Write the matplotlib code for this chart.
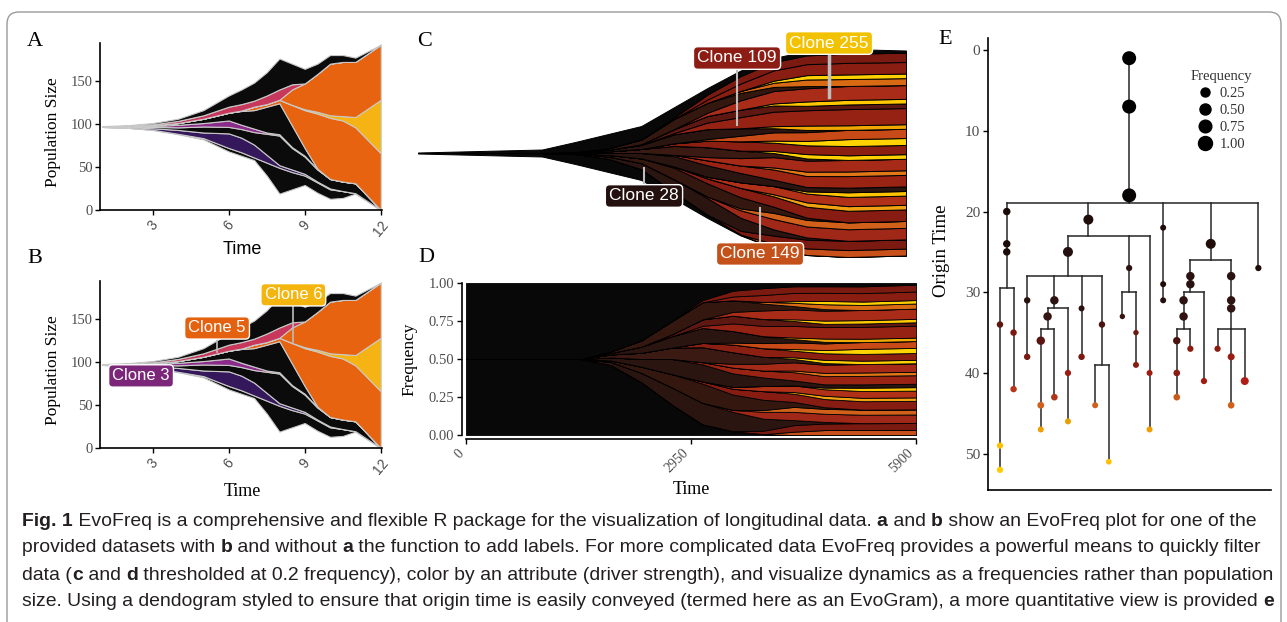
import matplotlib
matplotlib.use('Agg')
import numpy as np
import matplotlib.pyplot as plt
import matplotlib.transforms as mtransforms
from matplotlib.patches import FancyBboxPatch
from matplotlib.lines import Line2D

SERIF = 'Liberation Serif'
SANS = 'Liberation Sans'
GREY = '#4d4d4d'

# ---------------- panels A / B : clone sizes over time (stacked bottom -> top)
fish_time = [1, 2, 3, 4, 5, 6, 6.5, 7, 7.5, 8, 8.5, 9, 9.5, 10, 10.5, 11, 12]
fish_bottom = [96.5, 95.5, 93, 88, 82, 68, 63, 58, 40, 19, 24, 29, 20, 13, 14, 19, 0]
black_low = [0, 0, 0.2, 0.5, 1.5, 4, 4, 3, 15, 30, 20, 11, 12, 11, 8, 0.5, 0]
clone_2 = [0, 0.5, 1.8, 4.5, 6.5, 17, 17, 15, 9, 3, 3, 2, 1, 1, 0, 0, 0]
black_mid = [0.5, 0.5, 1.5, 3, 7, 7.5, 10, 14.5, 24.5, 34.5, 25, 20, 14, 11, 11, 11.5, 0]
clone_3 = [0, 0.5, 1, 3, 4, 7.5, 5, 4, 1.5, 1.5, 1, 1, 0.5, 0, 0, 0, 0]
black_core = [0, 0.3, 1, 2, 5, 9, 16, 21.5, 30, 36, 25, 9, 0.5, 0, 0, 0, 0]
clone_5_low = [0, 0, 0, 0, 0, 0, 0.5, 4, 3, 4, 24, 44, 64, 71, 71, 65, 66]
clone_6 = [0, 0, 0, 0, 0, 0, 0, 0, 0, 0, 0, 1, 2, 3, 5, 12, 62]
clone_5_up = [0, 0, 0, 0, 0, 0, 0, 0, 0, 0, 18, 30, 44, 60, 63, 64, 64]
clone_4 = [0, 0.3, 1, 2.5, 4, 7, 7.5, 7, 10, 12, 6, 0, 0, 0, 0, 0, 0]
black_top = [0.5, 0.9, 1.5, 2.5, 6, 13, 17, 21, 27, 36, 24, 17, 12, 10, 8, 5, 0]

fish_layers = [black_low, clone_2, black_mid, clone_3, black_core,
               clone_5_low, clone_6, clone_5_up, clone_4, black_top]
fish_colors = ['#0b0b0b', '#35185b', '#0b0b0b', '#8b2c8a', '#0b0b0b',
               '#e8630f', '#f6b414', '#e8630f', '#c8385c', '#0b0b0b']

# ---------------- panels C / D : filtered clones (relative sizes, bottom -> top)
evo_time = [0, 1500, 1900, 2300, 2700, 3100, 3500, 3900, 4300, 4700, 5200, 5900]
evo_pop = [1, 7, 22, 38, 54, 92, 130, 165, 190, 204, 208, 205]
evo_bands = [
    [50, 50, 46, 34, 16, 5, 2, 0.5, 0, 0, 0, 0],
    [0, 0, 0, 0, 0, 0, 0, 0, 2, 3, 3, 3],
    [0, 0, 0, 0, 0, 0, 0, 2, 4, 4, 4, 4],
    [0, 0, 2, 6, 9, 10, 10, 7, 3, 1, 0, 0],
    [0, 0, 0, 0, 0, 0, 1, 4, 5, 5, 5, 5],
    [0, 0, 0, 0, 0, 0, 0, 1, 3, 3, 3, 3],
    [0, 0, 1, 4, 7, 9, 8, 6, 3, 1, 0, 0],
    [0, 0, 0, 0, 0, 1, 3, 5, 5, 5, 5, 5],
    [0, 0, 0, 0, 0, 0, 0, 0, 1, 2, 2, 2],
    [0, 0, 0, 0, 0, 0, 1, 3, 4, 4, 4, 4],
    [0, 0, 0, 0, 0, 0, 0, 0, 0, 1, 2, 2],
    [0, 0, 2, 5, 8, 8, 7, 5, 3, 2, 2, 2],
    [0, 0, 0, 0, 0, 1, 3, 4, 5, 5, 5, 5],
    [0, 0, 0, 0, 0, 0, 0, 0, 1, 2, 2, 2],
    [0, 0, 0, 0, 0, 0, 2, 4, 5, 5, 5, 5],
    [0, 0, 2, 4, 6, 7, 6, 4, 2, 1, 0, 0],
    [0, 0, 0, 0, 0, 0, 0, 0, 1, 2, 2, 2],
    [0, 0, 0, 0, 0, 2, 4, 5, 4, 4, 4, 4],
    [0, 0, 0, 0, 0, 0, 0, 0, 1, 2, 3, 3],
    [0, 0, 0, 0, 0, 0, 1, 3, 4, 4, 4, 4],
    [0, 0, 1, 4, 6, 7, 6, 4, 2, 1, 0, 0],
    [0, 0, 0, 0, 0, 0, 0, 0, 1, 2, 2, 2],
    [0, 0, 0, 0, 0, 1, 4, 6, 7, 7, 7, 7],
    [0, 0, 0, 0, 1, 3, 4, 4, 3, 2, 2, 2],
    [0, 0, 0, 0, 0, 0, 0, 0, 1, 2, 2, 2],
    [0, 0, 0, 0, 0, 0, 2, 5, 6, 6, 6, 6],
    [0, 0, 1, 4, 7, 8, 6, 4, 2, 1, 0, 0],
    [0, 0, 0, 0, 0, 0, 0, 1, 2, 3, 3, 3],
    [0, 0, 0, 0, 0, 0, 0, 0, 1, 2, 2, 2],
    [0, 0, 0, 0, 0, 0, 2, 4, 5, 5, 5, 5],
    [0, 0, 0, 0, 0, 1, 3, 4, 4, 4, 4, 4],
    [50, 50, 45, 37, 20, 8, 4, 3, 2, 2, 2, 1],
]
evo_colors = ['#080808', '#c8501a', '#7a1a10', '#2b1511', '#a02818', '#d0601a',
              '#34180f', '#861c12', '#f0a010', '#b03018', '#ffc400', '#2b1511',
              '#9a2414', '#e07818', '#a52a18', '#3a1a12', '#ffd000', '#8b1f12',
              '#ffd400', '#c84a16', '#2b1511', '#f0a800', '#962214', '#5e1812',
              '#ffc800', '#a82c18', '#34180f', '#d86a14', '#ffd000', '#8b1e12',
              '#7a1a10', '#080808']

# ---------------- panel E : EvoGram nodes
node_parent = [-1, 0, 1, 2, 3, 4, 5, 6, 7, 5, 9, 2, 11, 12, 13, 12, 15, 16, 17, 18,
               16, 15, 21, 12, 23, 12, 25, 25, 11, 28, 28, 30, 11, 32, 2, 34, 35, 2,
               37, 38, 39, 40, 41, 42, 43, 41, 39, 37, 47, 48, 49, 49, 51, 49, 2]
node_time = [1, 7, 18, 20, 24, 25, 34, 49, 52, 35, 42, 21, 25, 31, 38, 31, 33, 36, 44, 47,
             43, 40, 46, 32, 38, 34, 44, 51, 27, 33, 35, 39, 40, 47, 22, 29, 31, 24,
             28, 29, 31, 33, 36, 40, 43, 37, 41, 28, 31, 32, 37, 38, 44, 41, 27]
node_freq = [1.0, 1.0, 1.0, 0.12, 0.12, 0.12, 0.06, 0.05, 0.05, 0.06, 0.06, 0.36, 0.36,
             0.06, 0.06, 0.2, 0.2, 0.2, 0.08, 0.04, 0.07, 0.05, 0.04, 0.04, 0.06, 0.06,
             0.04, 0.03, 0.05, 0.02, 0.02, 0.04, 0.04, 0.04, 0.04, 0.04, 0.04, 0.36,
             0.2, 0.2, 0.2, 0.2, 0.12, 0.07, 0.07, 0.05, 0.05, 0.2, 0.2, 0.2, 0.05,
             0.09, 0.07, 0.16, 0.05]
node_color = ['#000000', '#000000', '#0a0505', '#1a0a08', '#1a0a08', '#1a0a08', '#5e1510',
              '#ffc200', '#ffcc00', '#7a1a10', '#b8361a', '#1f0d0a', '#241010', '#2a1210',
              '#7a1a12', '#2e1410', '#361612', '#5a1512', '#d2601a', '#eda000', '#b0361a',
              '#9a1c12', '#e8a000', '#2a1210', '#7a1a12', '#4a1410', '#d0601a', '#ffc000',
              '#2a1210', '#3a1410', '#6a1a12', '#8b1c12', '#a01c12', '#eda000', '#1f0d0a',
              '#1f0d0a', '#241010', '#1f0d0a', '#2a1210', '#2a1210', '#2e1410', '#321410',
              '#4a1210', '#8b1c12', '#c85a1a', '#8b1c12', '#a01c12', '#2a1210', '#2e1410',
              '#321410', '#8b1c12', '#9a1c12', '#d0601a', '#b01e16', '#1f0d0a']
legend_freq = [0.25, 0.50, 0.75, 1.00]

W, H = 1287, 622
fig = plt.figure(figsize=(W / 100, H / 100), dpi=100)


def px_axes(left, top, right, bottom):
    return fig.add_axes([left / W, 1 - bottom / H, (right - left) / W, (bottom - top) / H])


def ftext(x, y, s, **kw):
    return fig.text(x / W, 1 - y / H, s, **kw)


def classic(ax):
    for s in ['top', 'right']:
        ax.spines[s].set_visible(False)
    for s in ['left', 'bottom']:
        ax.spines[s].set_linewidth(1.2)
    ax.tick_params(length=3.5, width=1, colors='black', labelcolor=GREY, pad=2)


# frame round the figure
frame = FancyBboxPatch((7, -40), 1274, 622 - 12 + 40, boxstyle='round,pad=0,rounding_size=12',
                       fc='none', ec='#9a9a9a', lw=1.0, transform=mtransforms.IdentityTransform())
fig.add_artist(frame)


def fish(ax):
    base = np.array(fish_bottom, float)
    for layer, col in zip(fish_layers, fish_colors):
        top = base + np.array(layer, float)
        ax.fill_between(fish_time, base, top, fc=col, ec='#c9c9c9', lw=0.8)
        base = top
    classic(ax)
    ax.set_xlim(0.92, 12.05)
    ax.set_ylim(0, 194)
    ax.set_xticks([3, 6, 9, 12])
    ax.set_yticks([0, 50, 100, 150])
    for lb in ax.get_yticklabels():
        lb.set_fontfamily(SERIF)
        lb.set_fontsize(10.5)
    for lb in ax.get_xticklabels():
        lb.set_fontfamily(SANS)
        lb.set_fontsize(10)
        lb.set_rotation(50)
        lb.set_ha('center')


axA = px_axes(100, 43, 382, 210)
fish(axA)
axB = px_axes(100, 281, 382, 448)
fish(axB)

ftext(53, 132, 'Population Size', family=SERIF, fontsize=12.5, rotation=90, ha='center', va='center')
ftext(53, 370, 'Population Size', family=SERIF, fontsize=12.5, rotation=90, ha='center', va='center')
ftext(242, 250, 'Time', family=SANS, fontsize=13, ha='center', va='center')
ftext(242, 491, 'Time', family=SERIF, fontsize=13, ha='center', va='center')

box_kw = dict(boxstyle='round,pad=0.22,rounding_size=0.25', ec='white', lw=1)
axB.plot([5.54, 5.54], [111.6, 125.6], color='#bdbdbd', lw=1.2, zorder=5)
axB.plot([8.55, 8.55], [123, 164], color='#bdbdbd', lw=1.2, zorder=5)
axB.text(2.54, 83.7, 'Clone 3', family=SANS, fontsize=12, color='white', ha='center', va='center',
         bbox=dict(fc='#7b2679', **box_kw), zorder=6)
axB.text(5.54, 139.5, 'Clone 5', family=SANS, fontsize=12, color='white', ha='center', va='center',
         bbox=dict(fc='#e4610f', **box_kw), zorder=6)
axB.text(8.55, 178, 'Clone 6', family=SANS, fontsize=12, color='white', ha='center', va='center',
         bbox=dict(fc='#f5b50f', **box_kw), zorder=6)

# ---------------- C and D
freq = np.array(evo_bands, float)
freq = freq / freq.sum(axis=0)
cum = np.vstack([np.zeros(len(evo_time)), np.cumsum(freq, axis=0)])
pop = np.array(evo_pop, float)

axC = px_axes(418, 40, 906, 266)
for k in range(len(freq)):
    axC.fill_between(evo_time, -pop / 2 + cum[k] * pop, -pop / 2 + cum[k + 1] * pop,
                     fc=evo_colors[k], ec='black', lw=0.7)
axC.set_xlim(0, 5900)
axC.set_ylim(-113, 113)
axC.axis('off')

c_labels = [('Clone 109', 3857, 95, 83, 28, '#8c1c14', 1.5),
            ('Clone 255', 4969, 110, 98, 56, '#f2c200', 2.5),
            ('Clone 28', 2732, -43, -30, -15, '#24100e', 1.5),
            ('Clone 149', 4135, -101, -89, -55, '#c4501a', 1.5)]
for name, tx, ty, y0, y1, col, lw in c_labels:
    axC.plot([tx, tx], [y0, y1], color='#bdbdbd', lw=lw, zorder=5)
    axC.text(tx, ty, name, family=SANS, fontsize=12.5, color='white', ha='center', va='center',
             bbox=dict(fc=col, **box_kw), zorder=6, clip_on=False)

axD = px_axes(466, 283, 916, 435)
for k in range(len(freq)):
    axD.fill_between(evo_time, cum[k], cum[k + 1], fc=evo_colors[k], ec='black', lw=0.6)
classic(axD)
axD.spines['left'].set_position(('outward', 3))
axD.spines['bottom'].set_position(('outward', 3))
axD.set_xlim(0, 5900)
axD.set_ylim(0, 1)
axD.set_xticks([0, 2950, 5900])
axD.set_yticks([0, 0.25, 0.5, 0.75, 1.0])
axD.set_yticklabels(['0.00', '0.25', '0.50', '0.75', '1.00'])
for lb in axD.get_yticklabels():
    lb.set_fontfamily(SERIF)
    lb.set_fontsize(10.5)
for lb in axD.get_xticklabels():
    lb.set_fontfamily(SERIF)
    lb.set_fontsize(10)
    lb.set_rotation(45)
    lb.set_ha('right')
ftext(409, 359, 'Frequency', family=SERIF, fontsize=12.5, rotation=90, ha='center', va='center')
ftext(691, 490, 'Time', family=SERIF, fontsize=13, ha='center', va='center')

# ---------------- E
n = len(node_parent)
children = {i: [] for i in range(n)}
for i, p in enumerate(node_parent):
    if p >= 0:
        children[p].append(i)
xpos = {}
leaf_count = [0]


def place(i):
    if not children[i]:
        xpos[i] = leaf_count[0]
        leaf_count[0] += 1
        return xpos[i], xpos[i]
    lo, hi = 1e9, -1e9
    for c in children[i]:
        a, b = place(c)
        lo, hi = min(lo, a), max(hi, b)
    xpos[i] = (lo + hi) / 2
    return lo, hi


place(0)

axE = px_axes(988, 38, 1271, 490)
lc = '#262626'
for i in range(n):
    ch = children[i]
    if len(ch) == 1:
        axE.plot([xpos[i]] * 2, [node_time[i], node_time[ch[0]]], color=lc, lw=1.1)
    elif len(ch) > 1:
        bar = (node_time[i] + min(node_time[c] for c in ch)) / 2
        xs = [xpos[c] for c in ch]
        axE.plot([xpos[i]] * 2, [node_time[i], bar], color=lc, lw=1.1)
        axE.plot([min(xs), max(xs)], [bar, bar], color=lc, lw=1.1)
        for c in ch:
            axE.plot([xpos[c]] * 2, [bar, node_time[c]], color=lc, lw=1.1)


def node_size(f):
    d = 4 + 10 * np.sqrt(f)
    return (d * 0.72) ** 2


axE.scatter([xpos[i] for i in range(n)], node_time, s=[node_size(f) for f in node_freq],
            c=node_color, zorder=5, linewidths=0)
classic(axE)
axE.set_xlim(-0.88, 19.93)
axE.set_ylim(54.5, -1.5)
axE.set_xticks([])
axE.set_yticks([0, 10, 20, 30, 40, 50])
for lb in axE.get_yticklabels():
    lb.set_fontfamily(SERIF)
    lb.set_fontsize(11)
ftext(941, 251, 'Origin Time', family=SERIF, fontsize=13.5, rotation=90, ha='center', va='center')

handles = [Line2D([], [], ls='none', marker='o', color='black',
                  markersize=np.sqrt(node_size(f))) for f in legend_freq]
leg = fig.legend(handles, ['%.2f' % f for f in legend_freq], title='Frequency',
                 loc='upper left', bbox_to_anchor=(1183 / W, 1 - 63 / H), frameon=False,
                 prop={'family': SERIF, 'size': 10.5}, labelspacing=0.25, handletextpad=0.4,
                 handlelength=1.2, borderpad=0)
leg.get_title().set_fontfamily(SERIF)
leg.get_title().set_fontsize(10.5)
leg.get_title().set_color('#333333')
for t in leg.get_texts():
    t.set_color('#333333')

# panel letters
for s, x, y in [('A', 35, 42), ('B', 35, 259), ('C', 425, 41), ('D', 426, 257), ('E', 945, 40)]:
    ftext(x, y, s, family=SERIF, fontsize=16, ha='center', va='center')

# ---------------- caption
cap_lines = [
    [('Fig. 1', True), (' EvoFreq is a comprehensive and flexible R package for the visualization of longitudinal data. ', False),
     ('a', True), (' and ', False), ('b', True), (' show an EvoFreq plot for one of the', False)],
    [('provided datasets with ', False), ('b', True), (' and without ', False), ('a', True),
     (' the function to add labels. For more complicated data EvoFreq provides a powerful means to quickly filter', False)],
    [('data (', False), ('c', True), (' and ', False), ('d', True),
     (' thresholded at 0.2 frequency), color by an attribute (driver strength), and visualize dynamics as a frequencies rather than population', False)],
    [('size. Using a dendogram styled to ensure that origin time is easily conveyed (termed here as an EvoGram), a more quantitative view is provided ', False),
     ('e', True)],
]
cap_y = [521, 548, 575, 602]
CAP_FONT = ['Liberation Sans Narrow', 'Liberation Sans']
renderer = fig.canvas.get_renderer()


def piece_width(s, bold, size):
    t1 = fig.text(0, 0, s + '|', family=CAP_FONT, fontsize=size, fontweight='bold' if bold else 'normal')
    t2 = fig.text(0, 0, '|', family=CAP_FONT, fontsize=size, fontweight='bold' if bold else 'normal')
    w = t1.get_window_extent(renderer).width - t2.get_window_extent(renderer).width
    t1.remove()
    t2.remove()
    return w


w10 = sum(piece_width(s, b, 10) for s, b in cap_lines[0])
cap_size = 10 * 1240 / w10
for parts, y in zip(cap_lines, cap_y):
    x = 22
    for s, b in parts:
        ftext(x, y, s, family=CAP_FONT, fontsize=cap_size, fontweight='bold' if b else 'normal',
              ha='left', va='center', color='#231f20')
        x += piece_width(s, b, cap_size)

fig.savefig('out.png', dpi=100)
